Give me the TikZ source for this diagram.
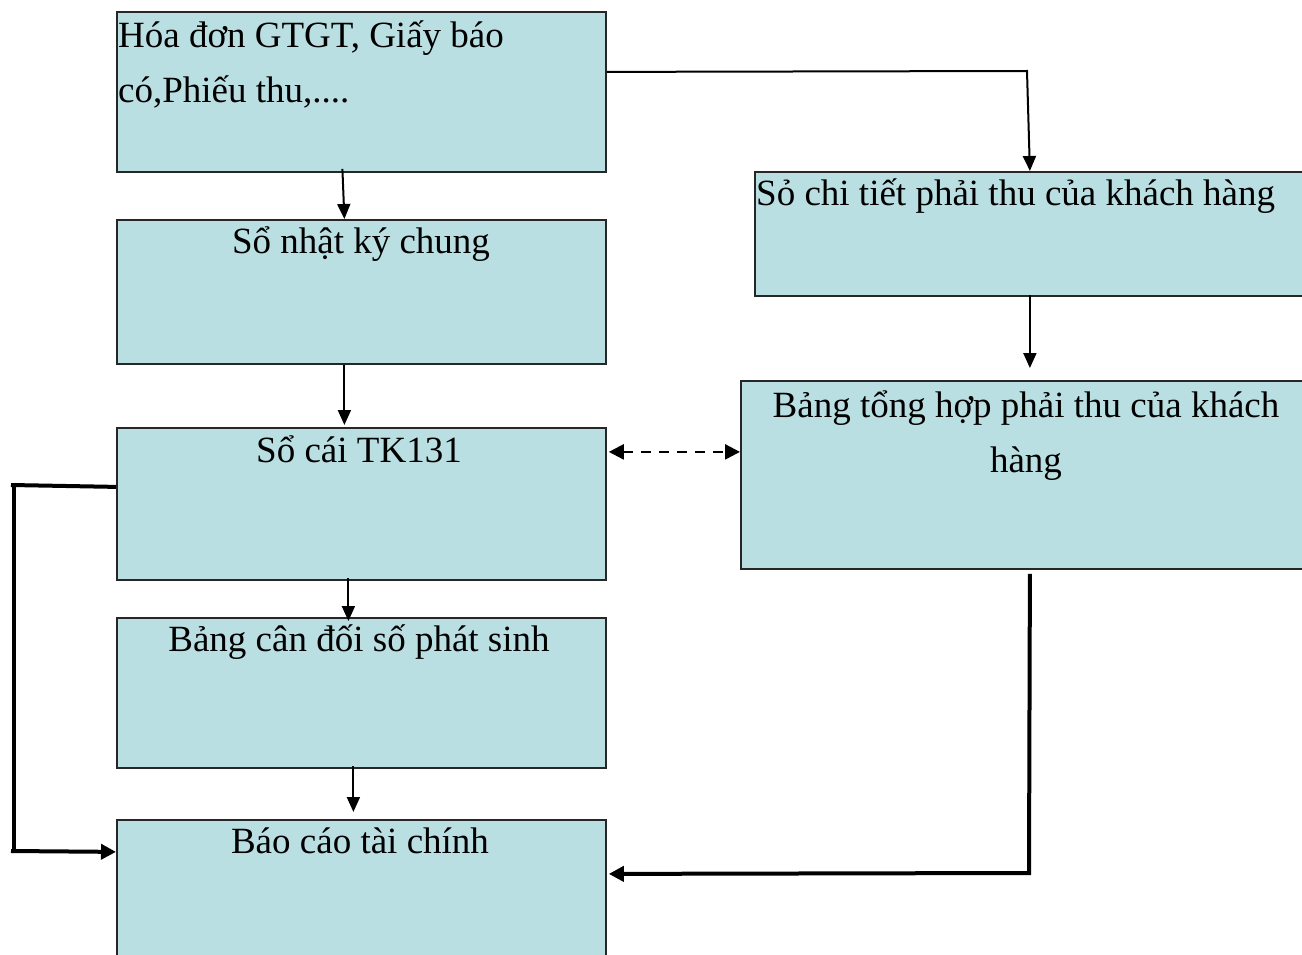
\documentclass[tikz,border=0pt]{standalone}
\usepackage{fontspec}
\setmainfont{Liberation Serif}
\usetikzlibrary{arrows.meta}
\definecolor{boxfill}{HTML}{BADFE3}
\begin{document}
\begin{tikzpicture}[x=1pt,y=-1pt,
  box/.style={draw=black!85, line width=1.8pt, fill=boxfill, rectangle,
    inner sep=0pt, anchor=north west},
  lbl/.style={font=\fontsize{37}{55}\selectfont, inner sep=0pt, anchor=base},
  lbll/.style={lbl, anchor=base west},
  arr/.style={line width=2pt, -{Triangle[length=15pt,width=13pt]}},
  heavy/.style={line width=4pt},
  heavyarr/.style={line width=4pt, -{Triangle[length=15pt,width=15pt]}},
  dasharr/.style={line width=2.4pt, dash pattern=on 10pt off 8pt,
    {Triangle[length=15pt,width=15pt]}-{Triangle[length=15pt,width=15pt]}}
]
\clip (0,0) rectangle (1302,955);
\fill[white] (0,0) rectangle (1302,955);

% left column
\node[box, minimum width=489pt, minimum height=160pt] (hd)  at (116,11)  {};
\node[box, minimum width=489pt, minimum height=144pt] (nkc) at (116,219) {};
\node[box, minimum width=489pt, minimum height=152pt] (sc)  at (116,427) {};
\node[box, minimum width=489pt, minimum height=150pt] (bcd) at (116,617) {};
\node[box, minimum width=489pt, minimum height=160pt] (bctc) at (116,819) {};

% right column
\node[box, minimum width=550pt, minimum height=124pt] (sct) at (754,171) {};
\node[box, minimum width=572pt, minimum height=188pt] (bth) at (740,380) {};

% labels
\node[lbll] (hd1) at (118,48)  {Hóa đơn GTGT, Giấy báo};
\node[lbll] (hd2) at (118,103) {có,Phiếu thu,....};
\node[lbl] (nkct) at (361,253) {Sổ nhật ký chung};
\node[lbl] (sct1) at (359,462) {Sổ cái TK131};
\node[lbl] (bcdt) at (359,651) {Bảng cân đối số phát sinh};
\node[lbl] (bctct) at (360,853) {Báo cáo tài chính};
\node[lbll] (sctt) at (756,205) {Sỏ chi tiết phải thu của khách hàng};
\node[lbl] (btht1) at (1026,417) {Bảng tổng hợp phải thu của khách};
\node[lbl] (btht2) at (1026,472) {hàng};

% connectors
\draw[arr] ([yshift=20pt]hd.east) -- (1027,71) -- (sct.north);
\draw[arr] ([xshift=-19pt,yshift=4pt]hd.south) -- ([xshift=-17pt]nkc.north);
\draw[arr] ([xshift=-17pt]nkc.south) -- ([xshift=-17pt,yshift=2pt]sc.north);
\draw[arr] ([xshift=-13pt,yshift=3pt]sc.south) -- ([xshift=-13pt,yshift=-4pt]bcd.north);
\draw[arr] ([xshift=-8pt,yshift=3pt]bcd.south) -- ([xshift=-8pt,yshift=7pt]bctc.north);
\draw[arr] ([yshift=2pt]sct.south) -- ([xshift=3pt,yshift=12pt]bth.north);
\draw[dasharr] ([xshift=2pt,yshift=52pt]sc.east) -- ([yshift=23pt]bth.west);

\coordinate (rturn) at (1029,873);
\draw[heavyarr] ([xshift=3pt,yshift=-4pt]bth.south) -- (rturn) -- ([xshift=2pt,yshift=26pt]bctc.east);

\coordinate (ltop) at (11,485);
\coordinate (lbot) at (11,851);
\draw[heavy] ([yshift=17pt]sc.west) -- (ltop);
\draw[heavy] (14,485) -- (14,851);
\draw[heavyarr] (lbot) -- ([yshift=48pt]bctc.west);
\end{tikzpicture}
\end{document}
